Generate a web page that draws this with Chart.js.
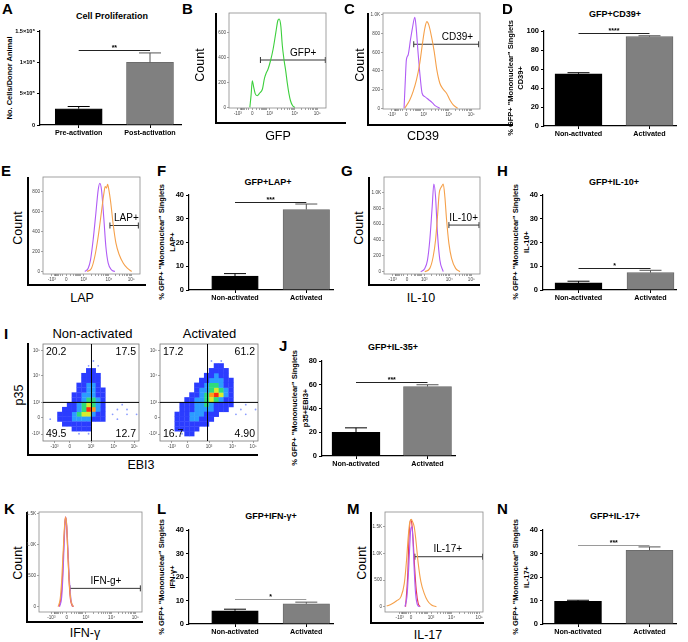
<!DOCTYPE html>
<html><head><meta charset="utf-8">
<script src="https://cdn.jsdelivr.net/npm/chart.js@4.4.1/dist/chart.umd.min.js"></script>
<style>
html,body{margin:0;padding:0;background:#fff;}
#fig{position:relative;width:688px;height:642px;overflow:hidden;font-family:"Liberation Sans",Arial,Helvetica,sans-serif;background:#fff;}
.t{position:absolute;white-space:nowrap;color:#000;line-height:1;}
canvas{position:absolute;}
.ax{position:absolute;border-left:2.5px solid #000;border-bottom:2.5px solid #000;box-sizing:border-box;}
</style></head><body><div id="fig"></div>
<script>
// ================= DATA =================
const groups = ['Non-activated', 'Activated'];
const prolifGroups = ['Pre-activation', 'Post-activation'];
const prolifMean = [260000, 1000000];
const prolifErr = [295000, 1150000];
const prolifYTicks = [0, 500000, 1000000, 1500000];
const prolifYLabels = ['0', '5×10⁵', '1×10⁶', '1.5×10⁶'];

const cd39Mean = [55, 94];   const cd39Err = [56.1, 95];
const lapMean = [5.9, 33.9]; const lapErr = [6.9, 36.2];
const il10Mean = [3.0, 7.3]; const il10Err = [3.7, 8.3];
const il35Mean = [20, 58.5]; const il35Err = [23.7, 60];
const ifngMean = [5.6, 8.6]; const ifngErr = [6.3, 9.3];
const il17Mean = [9.6, 31.4]; const il17Err = [10.1, 32.8];

const pct100Ticks = [0, 20, 40, 60, 80, 100];
const pct80Ticks = [0, 20, 40, 60, 80];
const pct40Ticks = [0, 10, 20, 30, 40];

// significance bars: A, D, F, H, J, L, N
const sigY = [1190000, 97.5, 37.1, 9.45, 62.2, 10.7, 33.8];
const sigStars = ['**', '****', '***', '*', '***', '*', '***'];

// flow histograms: [position on display axis (0-100), count]
const gfpHist = [[21.5,0],[22.8,100],[24,213],[25.5,160],[27,110],[29,93],[31.7,115],[34.5,147],[36.5,230],[38,267],[40.3,307],[42.8,373],[45.5,467],[48.3,600],[50.3,693],[51.7,707],[53.4,653],[55,493],[56.6,387],[58.5,290],[60,200],[61.8,110],[63.4,53],[65.5,15],[68,0]];
const cd39Purple = [[21.7,0],[23,300],[24.1,518],[25.9,571],[28.3,732],[30.3,857],[32.8,975],[34.1,875],[36.2,589],[38.3,339],[40.3,161],[43.1,125],[46.6,96],[50.7,61],[54.1,25],[58.6,0]];
const cd39Orange = [[22.4,0],[27.6,89],[31,179],[34.5,304],[37.9,482],[40.7,696],[43.1,857],[45.2,929],[47.2,893],[50,768],[52.8,607],[55.5,411],[58.6,268],[62.1,204],[65.5,161],[69,89],[72.4,36],[76.9,0]];
const lapPurple = [[43.1,0],[46.6,33],[49,117],[51.7,317],[54.5,583],[56.9,817],[58.6,883],[60.3,817],[62.8,517],[64.8,250],[67.2,83],[70.7,17],[74.1,0]];
const lapOrange = [[45.5,0],[50,33],[53.4,150],[56.9,350],[60.3,600],[62.8,783],[64.1,850],[65.5,833],[66.6,873],[67.9,817],[69.7,700],[72.4,467],[75.2,283],[78.6,167],[82.8,83],[86.9,33],[91.4,0]];
const il10Purple = [[38.3,0],[42.5,42],[45.3,147],[47.7,400],[50.2,821],[51.9,1107],[53.7,947],[55.7,484],[58.2,147],[61.7,0]];
const il10Orange = [[42.5,0],[47.7,42],[51.2,189],[53.7,400],[55.7,695],[57.5,989],[58.9,1053],[59.9,1074],[61.7,1107],[63.4,947],[65.2,653],[67.6,358],[70.4,168],[74.6,42],[79.1,0]];
const ifngOrange = [[18.5,0],[20.5,120],[22,420],[23.5,900],[24.8,1300],[25.8,1440],[26.8,1330],[28,880],[29.4,380],[31,100],[33.5,0]];
const ifngRed = [[19.5,0],[21.5,160],[22.8,480],[24.1,1020],[25.1,1340],[25.7,1450],[26.7,1320],[28,860],[29.3,380],[30.6,110],[32.6,0]];
const ifngPurple = [[20,0],[22,150],[23.3,520],[24.5,1050],[25.4,1370],[26,1440],[27,1300],[28.4,830],[29.8,360],[31.3,90],[33.5,0]];
const il17Orange = [[1.7,12],[6.8,50],[11.9,112],[16.3,188],[19.7,438],[22,875],[23.7,1312],[25.4,1594],[26.8,1637],[28.1,1594],[29.8,1500],[31.5,1250],[33.9,812],[36.6,469],[40,250],[43.4,112],[47.5,31],[52.5,0]];
const il17Purple = [[20.3,0],[22.4,188],[24.1,688],[25.4,1188],[26.4,1469],[27.5,1500],[28.5,1250],[29.8,688],[31.2,250],[33.2,31],[35.3,0]];
const il17Red = [[21,0],[23.1,563],[24.7,1375],[26.1,1625],[27.1,1594],[28.5,1312],[30.2,750],[31.9,312],[33.9,62],[35.9,0]];

// gates: [from, to, count level]
const gateGFP = [32.4, 99.3, 379];
const gateCD39 = [31.7, 98.6, 686];
const gateLAP = [69, 98.3, 460];
const gateIL10 = [67.6, 99, 589];
const gateIFNG = [30, 98.4, 296];
const gateIL17 = [30.5, 99.5, 937];
const gateLabels = ['GFP+', 'CD39+', 'LAP+', 'IL-10+', 'IFN-g+', 'IL-17+'];

// flow axis ticks
const flowXLabels = ['-10³', '0', '10³', '10⁴', '10⁵'];
const flowXPos = [9, 24, 42, 68, 91];
const ifngXPos = [12, 27, 45.5, 70.5, 93.5];
const il17XPos = [15, 26.5, 47, 68, 96];
const count600Ticks = [0, 200, 400, 600];
const count600Labels = ['0', '200', '400', '600'];
const count800Ticks = [0, 200, 400, 600, 800];
const count800Labels = ['0', '200', '400', '600', '800'];
const count1kTicks = [0, 200, 400, 600, 800, 1000];
const count1kLabels = ['0', '200', '400', '600', '800', '1.0K'];
const count15kTicks = [0, 500, 1000, 1500];
const count15kLabels = ['0', '500', '1.0K', '1.5K'];

// density plots (panel I): density level per cell, 20 x 20 cells, top row first
const il35NonActGrid = [
  "....................",
  "....................",
  "....................",
  "..........1.........",
  ".........1.1........",
  ".........22.........",
  "........2222........",
  "........2222........",
  ".......22332........",
  ".......223322.......",
  "......2233322.......",
  "......2234432.......",
  ".....22345432...1...",
  "....222347632..1.1..",
  "...2223455322.1..1.1",
  ".1.2223333222..1....",
  "....222222..........",
  "......2222..........",
  ".......1.1..........",
  "...................."
];
const il35ActGrid = [
  "....................",
  "....................",
  "....................",
  "..........1.1.......",
  "...........22.......",
  "..........2222......",
  ".........22322......",
  "........2233322.....",
  ".......22344322.....",
  ".......23345432.....",
  "......223467532.....",
  ".....2233454322.....",
  "....22233432222..1..",
  "....2223333222..1..1",
  "...222333222...1.1..",
  "...22233222.........",
  "...2222222..........",
  "...22222............",
  "....122.............",
  "...................."
];
const quadNonAct = ['20.2', '17.5', '49.5', '12.7'];
const quadAct = ['17.2', '61.2', '16.7', '4.90'];
const densYPos = [7, 24.5, 39.8, 67.3, 92.9];
const densXPos = [12, 28, 50, 74, 95];
const quadLineNonAct = [50.5, 39.8];
const quadLineAct = [48.5, 39.8];

// ================= HELPERS =================
const FONT = '"Liberation Sans", Arial, Helvetica, sans-serif';
Chart.defaults.font.family = FONT;
Chart.defaults.animation = false;
const fig = document.getElementById('fig');
const densityColors = ['#8a9cff', '#2b3cff', '#2c9cff', '#2fdc7a', '#d8ec2c', '#ff9c1c', '#ff2a10'];

function txt(s, x, y, size, bold, rot) {
  const d = document.createElement('div');
  d.className = 't'; d.textContent = s;
  d.style.fontSize = size + 'px';
  if (bold) d.style.fontWeight = 'bold';
  d.style.left = x + 'px'; d.style.top = y + 'px';
  d.style.transform = 'translate(-50%,-50%)' + (rot ? ' rotate(-90deg)' : '');
  fig.appendChild(d);
}
function letter(s, x, y) {
  const d = document.createElement('div');
  d.className = 't'; d.textContent = s;
  d.style.fontSize = '15px'; d.style.fontWeight = 'bold';
  d.style.left = x + 'px'; d.style.top = y + 'px';
  fig.appendChild(d);
}
function lAxis(x, yTop, yBot, xRight) {
  const d = document.createElement('div');
  d.className = 'ax';
  d.style.left = (x - 1.25) + 'px'; d.style.top = yTop + 'px';
  d.style.width = (xRight - x + 1.25) + 'px'; d.style.height = (yBot - yTop + 1.25) + 'px';
  fig.appendChild(d);
}
function mkCanvas(L, T, R, B, pl, pt, pr, pb) {
  const c = document.createElement('canvas');
  const w = Math.round(R - L + pl + pr), h = Math.round(B - T + pt + pb);
  c.width = w; c.height = h;
  c.style.left = (L - pl) + 'px'; c.style.top = (T - pt) + 'px';
  c.style.width = w + 'px'; c.style.height = h + 'px';
  fig.appendChild(c);
  return c;
}

const barExtras = {
  id: 'barExtras',
  afterDatasetsDraw(chart, args, o) {
    const { ctx } = chart; const x = chart.scales.x, y = chart.scales.y;
    const ds = chart.data.datasets[0];
    ctx.save();
    ds.data.forEach((p, i) => {
      const px = x.getPixelForValue(p.x), top = y.getPixelForValue(p.y), e = y.getPixelForValue(ds.errTop[i]);
      ctx.strokeStyle = i === 0 ? '#000' : '#555'; ctx.lineWidth = 1;
      ctx.beginPath(); ctx.moveTo(px, top); ctx.lineTo(px, e);
      ctx.moveTo(px - o.cap, e); ctx.lineTo(px + o.cap, e); ctx.stroke();
    });
    const sy = Math.round(y.getPixelForValue(o.sigY)) + 0.5;
    const x1 = x.getPixelForValue(1), x2 = x.getPixelForValue(2);
    ctx.strokeStyle = o.sigColor; ctx.lineWidth = 1;
    ctx.beginPath(); ctx.moveTo(x1, sy); ctx.lineTo(x2, sy); ctx.stroke();
    ctx.fillStyle = '#000'; ctx.font = 'bold 7px ' + FONT; ctx.textAlign = 'center'; ctx.textBaseline = 'bottom';
    ctx.fillText(o.sig, (x1 + x2) / 2, sy + 1);
    ctx.restore();
  }
};

function axisGrid(len, col, lw) { return { display: true, drawOnChartArea: false, drawTicks: true, tickLength: len, color: col, lineWidth: lw, offset: false }; }

function barPanel(o) {
  const pl = 40, pt = 14, pr = 12, pb = 14;
  const c = mkCanvas(o.L, o.T, o.R, o.B, pl, pt, pr, pb);
  const span = o.c2 - o.c1;
  const xmin = 1 - (o.c1 - o.L) / span, xmax = 2 + (o.R - o.c2) / span;
  return new Chart(c, {
    type: 'bar',
    data: { datasets: [{ data: o.means.map((v, i) => ({ x: i + 1, y: v })), errTop: o.errs,
      backgroundColor: ['#000000', '#808080'], borderColor: ['#000000', '#666666'], borderWidth: 0.8, barThickness: o.barW }] },
    options: {
      responsive: false, animation: false, devicePixelRatio: 1,
      layout: { padding: { left: 0, top: pt, right: pr, bottom: 0 } },
      scales: {
        x: { type: 'linear', offset: false, min: xmin, max: xmax, afterFit: s => { s.height = pb; },
          afterBuildTicks: s => { s.ticks = [{ value: 1 }, { value: 2 }]; },
          ticks: { callback: v => o.cats[Math.round(v) - 1], autoSkip: false, maxRotation: 0, font: { size: 7.2, weight: 'bold' }, color: '#000', padding: 1 },
          grid: axisGrid(3, '#000', 1), border: { display: true, color: '#000', width: 1.2 } },
        y: { type: 'linear', min: 0, max: o.yTicks[o.yTicks.length - 1], afterFit: s => { s.width = pl; },
          afterBuildTicks: s => { s.ticks = o.yTicks.map(v => ({ value: v })); },
          ticks: { callback: v => o.yLabels[o.yTicks.indexOf(v)], font: { size: o.ySize || 7.5, weight: 'bold' }, color: '#000', padding: 2 },
          grid: axisGrid(3, '#000', 1), border: { display: true, color: '#000', width: 1.2 } }
      },
      plugins: { legend: { display: false }, tooltip: { enabled: false },
        barExtras: { sigY: o.sigY, sig: o.sig, sigColor: o.sigColor || '#222', cap: 11 } }
    },
    plugins: [barExtras]
  });
}

const flowFrame = {
  id: 'flowFrame',
  afterDatasetsDraw(chart, args, o) {
    const { ctx, chartArea: a } = chart;
    ctx.save();
    ctx.strokeStyle = '#8a8a8a'; ctx.lineWidth = 0.8;
    ctx.strokeRect(a.left, a.top, a.right - a.left, a.bottom - a.top);
    if (o.gateLabel) {
      const gx = chart.scales.x.getPixelForValue(o.gateLabelX), gy = chart.scales.y.getPixelForValue(o.gateY);
      ctx.fillStyle = '#000'; ctx.font = '10px ' + FONT; ctx.textAlign = 'center'; ctx.textBaseline = 'bottom';
      ctx.fillText(o.gateLabel, gx, gy - 2);
    }
    ctx.restore();
  }
};

function flowMinors(p) {
  const out = [];
  for (let k = 2; k <= 9; k++) {
    const f = Math.log10(k);
    out.push(p[2] + (p[3] - p[2]) * f, p[3] + (p[4] - p[3]) * f);
    out.push(p[1] + (p[2] - p[1]) * f * 0.85, p[1] - (p[1] - p[0]) * f * 0.85);
  }
  return out.filter(v => v > 0.5 && v < 99.5);
}

function flowPanel(o) {
  const pl = 13, pt = 5, pr = 6, pb = 11;
  const c = mkCanvas(o.L, o.T, o.R, o.B, pl, pt, pr, pb);
  const xVals = o.xPos.concat(flowMinors(o.xPos));
  const ds = o.series.map(s => ({ data: s.pts.map(p => ({ x: p[0], y: p[1] })), borderColor: s.color, borderWidth: 1.1,
    pointRadius: 0, cubicInterpolationMode: 'monotone', fill: false }));
  ds.push({ data: [{ x: o.gate[0], y: o.gate[2] }, { x: o.gate[1], y: o.gate[2] }], borderColor: '#333', borderWidth: 1,
    pointStyle: 'line', rotation: 90, pointRadius: 3, pointBorderColor: '#333', pointBorderWidth: 1, pointBackgroundColor: '#333' });
  return new Chart(c, {
    type: 'line',
    data: { datasets: ds },
    options: {
      responsive: false, animation: false, devicePixelRatio: 1,
      layout: { padding: { left: 0, top: pt, right: pr, bottom: 0 } },
      scales: {
        x: { type: 'linear', min: 0, max: 100, afterFit: s => { s.height = pb; },
          afterBuildTicks: s => { s.ticks = xVals.map(v => ({ value: v })); },
          ticks: { callback: v => { const i = o.xPos.indexOf(v); return i >= 0 ? flowXLabels[i] : ''; }, autoSkip: false, maxRotation: 0,
            font: { size: 4.6 }, color: '#444', padding: 1 },
          grid: axisGrid(2, '#666', 0.6), border: { display: false } },
        y: { type: 'linear', min: o.yMin, max: o.yMax, afterFit: s => { s.width = pl; },
          afterBuildTicks: s => { s.ticks = o.yTicks.map(v => ({ value: v })); },
          ticks: { callback: v => o.yLabels[o.yTicks.indexOf(v)], font: { size: 4.6 }, color: '#444', padding: 1 },
          grid: axisGrid(2, '#666', 0.6), border: { display: false } }
      },
      plugins: { legend: { display: false }, tooltip: { enabled: false },
        flowFrame: { gateLabel: o.gateLabel, gateLabelX: o.gateLabelX, gateY: o.gate[2] } }
    },
    plugins: [flowFrame]
  });
}

const densFrame = {
  id: 'densFrame',
  afterDatasetsDraw(chart, args, o) {
    const { ctx, chartArea: a } = chart;
    const qx = chart.scales.x.getPixelForValue(o.qLine[0]), qy = chart.scales.y.getPixelForValue(o.qLine[1]);
    ctx.save();
    ctx.strokeStyle = '#777'; ctx.lineWidth = 0.8;
    ctx.strokeRect(a.left, a.top, a.right - a.left, a.bottom - a.top);
    ctx.strokeStyle = '#000'; ctx.lineWidth = 1;
    ctx.beginPath(); ctx.moveTo(qx, a.top); ctx.lineTo(qx, a.bottom); ctx.moveTo(a.left, qy); ctx.lineTo(a.right, qy); ctx.stroke();
    ctx.fillStyle = '#000'; ctx.font = '10.5px ' + FONT;
    ctx.textBaseline = 'top';
    ctx.textAlign = 'left'; ctx.fillText(o.q[0], a.left + 3, a.top + 3);
    ctx.textAlign = 'right'; ctx.fillText(o.q[1], a.right - 3, a.top + 3);
    ctx.textBaseline = 'alphabetic';
    ctx.textAlign = 'left'; ctx.fillText(o.q[2], a.left + 3, a.bottom - 4);
    ctx.textAlign = 'right'; ctx.fillText(o.q[3], a.right - 3, a.bottom - 4);
    ctx.restore();
  }
};

function gridPoints(grid, level) {
  const pts = [];
  grid.forEach((row, r) => { for (let c = 0; c < row.length; c++) if (row[c] === String(level)) pts.push({ x: c * 5 + 2.5, y: 100 - (r * 5 + 2.5) }); });
  return pts;
}

function densityPanel(o) {
  const pl = 13, pt = 3, pr = 3, pb = 11;
  const c = mkCanvas(o.L, o.T, o.R, o.B, pl, pt, pr, pb);
  const cell = (o.R - o.L) / 20;
  const ds = [];
  for (let lvl = 1; lvl <= 7; lvl++) {
    ds.push({ data: gridPoints(o.grid, lvl), backgroundColor: densityColors[lvl - 1], borderWidth: 0,
      pointStyle: lvl === 1 ? 'circle' : 'rect', pointRadius: lvl === 1 ? 0.9 : cell / 1.414 + 0.2 });
  }
  return new Chart(c, {
    type: 'scatter',
    data: { datasets: ds },
    options: {
      responsive: false, animation: false, devicePixelRatio: 1,
      layout: { padding: { left: 0, top: pt, right: pr, bottom: 0 } },
      scales: {
        x: { type: 'linear', min: 0, max: 100, afterFit: s => { s.height = pb; },
          afterBuildTicks: s => { s.ticks = densXPos.map(v => ({ value: v })); },
          ticks: { callback: v => flowXLabels[densXPos.indexOf(v)], autoSkip: false, maxRotation: 0, font: { size: 4.6 }, color: '#444', padding: 1 },
          grid: axisGrid(2, '#666', 0.6), border: { display: false } },
        y: { type: 'linear', min: 0, max: 100, afterFit: s => { s.width = pl; },
          afterBuildTicks: s => { s.ticks = densYPos.map(v => ({ value: v })); },
          ticks: { callback: v => flowXLabels[densYPos.indexOf(v)], font: { size: 4.6 }, color: '#444', padding: 1 },
          grid: axisGrid(2, '#666', 0.6), border: { display: false } }
      },
      plugins: { legend: { display: false }, tooltip: { enabled: false }, densFrame: { qLine: o.qLine, q: o.q } }
    },
    plugins: [densFrame]
  });
}

const PURPLE = '#b05cf5', ORANGE = '#f5a04a', GREEN = '#3ccf3c', RED = '#e8384f';

// ================= PANEL A =================
letter('A', 2, 1);
txt('Cell Proliferation', 112, 16, 9, true);
txt('No. Cells/Donor Animal', 10, 78, 7.5, true, true);
barPanel({ L: 40, T: 31, R: 181, B: 125, c1: 78.7, c2: 150, barW: 47, cats: prolifGroups, means: prolifMean, errs: prolifErr,
  yTicks: prolifYTicks, yLabels: prolifYLabels, ySize: 5.6, sigY: sigY[0], sig: sigStars[0] });

// ================= PANEL B =================
letter('B', 182, 1);
lAxis(216, 13, 123, 346);
txt('Count', 200, 65, 12.5, false, true);
txt('GFP', 278, 136, 12.5, false);
flowPanel({ L: 229, T: 13, R: 326, B: 108, yMin: -5, yMax: 755, yTicks: count600Ticks, yLabels: count600Labels, xPos: flowXPos,
  series: [{ pts: gfpHist, color: GREEN }], gate: gateGFP, gateLabel: gateLabels[0], gateLabelX: 76.5 });

// ================= PANEL C =================
letter('C', 344, 1);
lAxis(368, 13, 125, 513);
txt('Count', 360, 65, 12.5, false, true);
txt('CD39', 423, 136, 12.5, false);
flowPanel({ L: 383, T: 13, R: 480, B: 109, yMin: -8, yMax: 1021, yTicks: count1kTicks, yLabels: count1kLabels, xPos: flowXPos,
  series: [{ pts: cd39Orange, color: ORANGE }, { pts: cd39Purple, color: PURPLE }], gate: gateCD39, gateLabel: gateLabels[1], gateLabelX: 76.7 });

// ================= PANEL D =================
letter('D', 502, 1);
txt('GFP+CD39+', 615, 14, 9, true);
txt('% GFP+ "Mononuclear" Singlets', 511, 78, 7.5, true, true);
txt('CD39+', 521, 78, 7.5, true, true);
barPanel({ L: 544, T: 31, R: 676, B: 126, c1: 578.5, c2: 649.5, barW: 47, cats: groups, means: cd39Mean, errs: cd39Err,
  yTicks: pct100Ticks, yLabels: pct100Ticks.map(String), sigY: sigY[1], sig: sigStars[1] });

// ================= PANEL E =================
letter('E', 1, 163);
lAxis(28, 177, 285, 146);
txt('Count', 18, 228, 12.5, false, true);
txt('LAP', 82, 298, 12.5, false);
flowPanel({ L: 43, T: 177, R: 140, B: 274, yMin: -25, yMax: 945, yTicks: count800Ticks, yLabels: count800Labels, xPos: flowXPos,
  series: [{ pts: lapOrange, color: ORANGE }, { pts: lapPurple, color: PURPLE }], gate: gateLAP, gateLabel: gateLabels[2], gateLabelX: 86 });

// ================= PANEL F =================
letter('F', 157, 163);
txt('GFP+LAP+', 268, 182, 9, true);
txt('% GFP+ "Mononuclear" Singlets', 162, 242, 7.5, true, true);
txt('LAP+', 173, 242, 7.5, true, true);
barPanel({ L: 189, T: 195, R: 333, B: 290, c1: 235, c2: 306.3, barW: 46.5, cats: groups, means: lapMean, errs: lapErr,
  yTicks: pct40Ticks, yLabels: pct40Ticks.map(String), sigY: sigY[2], sig: sigStars[2] });

// ================= PANEL G =================
letter('G', 341, 163);
lAxis(369, 177, 285, 480);
txt('Count', 359, 228, 12.5, false, true);
txt('IL-10', 421, 298, 12.5, false);
flowPanel({ L: 384, T: 177, R: 480, B: 274, yMin: -29, yMax: 1196, yTicks: count1kTicks, yLabels: count1kLabels, xPos: flowXPos,
  series: [{ pts: il10Orange, color: ORANGE }, { pts: il10Purple, color: PURPLE }], gate: gateIL10, gateLabel: gateLabels[3], gateLabelX: 83 });

// ================= PANEL H =================
letter('H', 497, 163);
txt('GFP+IL-10+', 614, 182, 9, true);
txt('% GFP+ "Mononuclear" Singlets', 516, 242, 7.5, true, true);
txt('IL-10+', 527, 242, 7.5, true, true);
barPanel({ L: 543, T: 195, R: 676, B: 290, c1: 578.5, c2: 650.5, barW: 47, cats: groups, means: il10Mean, errs: il10Err,
  yTicks: pct40Ticks, yLabels: pct40Ticks.map(String), sigY: sigY[3], sig: sigStars[3] });

// ================= PANEL I =================
letter('I', 4, 326);
txt('Non-activated', 92.5, 333, 13, false);
txt('Activated', 209.5, 333, 13, false);
lAxis(28, 343, 455, 258);
txt('p35', 19, 395, 12.5, false, true);
txt('EBI3', 141, 465, 12.5, false);
densityPanel({ L: 43, T: 343, R: 140, B: 441, grid: il35NonActGrid, qLine: quadLineNonAct, q: quadNonAct });
densityPanel({ L: 160, T: 343, R: 259, B: 441, grid: il35ActGrid, qLine: quadLineAct, q: quadAct });

// ================= PANEL J =================
letter('J', 279, 338);
txt('GFP+IL-35+', 393, 347, 9, true);
txt('% GFP+ "Mononuclear" Singlets', 295, 408, 7.5, true, true);
txt('p35+EBI3+', 306, 408, 7.5, true, true);
barPanel({ L: 322, T: 361, R: 455, B: 456, c1: 356, c2: 427.5, barW: 48, cats: groups, means: il35Mean, errs: il35Err,
  yTicks: pct80Ticks, yLabels: pct80Ticks.map(String), sigY: sigY[4], sig: sigStars[4] });

// ================= PANEL K =================
letter('K', 4, 501);
lAxis(27, 512, 622, 143);
txt('Count', 18, 563, 12.5, false, true);
txt('IFN-γ', 85, 633, 12.5, false);
flowPanel({ L: 39, T: 512, R: 142, B: 612, yMin: -85, yMax: 1527, yTicks: count15kTicks, yLabels: count15kLabels, xPos: ifngXPos,
  series: [{ pts: ifngOrange, color: ORANGE }, { pts: ifngPurple, color: PURPLE }, { pts: ifngRed, color: RED }],
  gate: gateIFNG, gateLabel: gateLabels[4], gateLabelX: 65 });

// ================= PANEL L =================
letter('L', 157, 501);
txt('GFP+IFN-γ+', 271, 516, 9, true);
txt('% GFP+ "Mononuclear" Singlets', 162, 577, 7.5, true, true);
txt('IFN-γ+', 173, 577, 7.5, true, true);
barPanel({ L: 189, T: 530, R: 333, B: 624, c1: 235, c2: 306.3, barW: 46.5, cats: groups, means: ifngMean, errs: ifngErr,
  yTicks: pct40Ticks, yLabels: pct40Ticks.map(String), sigY: sigY[5], sig: sigStars[5], sigColor: '#9a9a9a' });

// ================= PANEL M =================
letter('M', 347, 501);
lAxis(371, 512, 623, 484);
txt('Count', 362, 563, 12.5, false, true);
txt('IL-17', 428, 635, 12.5, false);
flowPanel({ L: 385, T: 512, R: 483, B: 612, yMin: -100, yMax: 1776, yTicks: count15kTicks, yLabels: count15kLabels, xPos: il17XPos,
  series: [{ pts: il17Orange, color: ORANGE }, { pts: il17Purple, color: PURPLE }, { pts: il17Red, color: RED }],
  gate: gateIL17, gateLabel: gateLabels[5], gateLabelX: 64 });

// ================= PANEL N =================
letter('N', 497, 501);
txt('GFP+IL-17+', 615, 516, 9, true);
txt('% GFP+ "Mononuclear" Singlets', 516, 577, 7.5, true, true);
txt('IL-17+', 527, 577, 7.5, true, true);
barPanel({ L: 543, T: 530, R: 676, B: 624, c1: 578, c2: 649.5, barW: 47, cats: groups, means: il17Mean, errs: il17Err,
  yTicks: pct40Ticks, yLabels: pct40Ticks.map(String), sigY: sigY[6], sig: sigStars[6], sigColor: '#9a9a9a' });
</script></body></html>
